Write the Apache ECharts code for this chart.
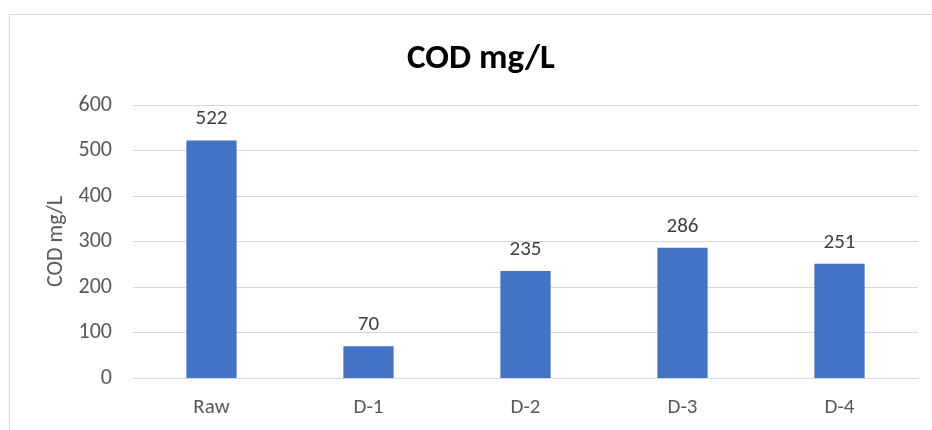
<!DOCTYPE html>
<html><head><meta charset="utf-8">
<script src="https://cdn.jsdelivr.net/npm/echarts@6/dist/echarts.min.js"></script>
<style>html,body{margin:0;padding:0;background:#fff}#c{width:932px;height:430px}</style>
</head><body><div id="c"></div>
<script>
const categories = ['Raw', 'D-1', 'D-2', 'D-3', 'D-4'];
const codValues = [522, 70, 235, 286, 251];
const yTicks = [0, 100, 200, 300, 400, 500, 600];

const FONT = "Carlito, Calibri, 'Open Sans', 'Noto Sans', sans-serif";
const chart = echarts.init(document.getElementById('c'), null, {renderer: 'canvas'});
chart.setOption({
  backgroundColor: '#fff',
  animation: false,
  graphic: [{
    type: 'rect', left: 7, top: 12, silent: true,
    shape: {x: 0, y: 0, width: 940, height: 430},
    style: {fill: 'none', stroke: '#D9D9D9', lineWidth: 1}
  }],
  title: {
    text: 'COD mg/L', left: 476, top: 37, textAlign: 'center',
    textStyle: {fontFamily: FONT, fontSize: 35, fontWeight: 'bold', color: '#000'}
  },
  grid: {left: 133, right: 14, top: 105, bottom: 52},
  xAxis: {
    type: 'category', data: categories,
    axisLine: {lineStyle: {color: '#D9D9D9', width: 1}},
    axisTick: {show: false},
    axisLabel: {fontFamily: FONT, fontSize: 21, color: '#595959', margin: 19}
  },
  yAxis: {
    type: 'value', min: yTicks[0], max: yTicks[yTicks.length - 1], interval: 100,
    name: 'COD mg/L', nameLocation: 'middle', nameGap: 66, nameRotate: 90,
    nameTextStyle: {fontFamily: FONT, fontSize: 22, color: '#595959'},
    axisLine: {show: false}, axisTick: {show: false},
    splitLine: {lineStyle: {color: '#D9D9D9', width: 1}},
    axisLabel: {fontFamily: FONT, fontSize: 22, color: '#595959', margin: 21}
  },
  series: [{
    type: 'bar', data: codValues, barWidth: '32%',
    itemStyle: {color: '#4472C4'},
    label: {show: true, position: 'top', distance: 11, fontFamily: FONT, fontSize: 21, color: '#404040'}
  }]
});
</script></body></html>
